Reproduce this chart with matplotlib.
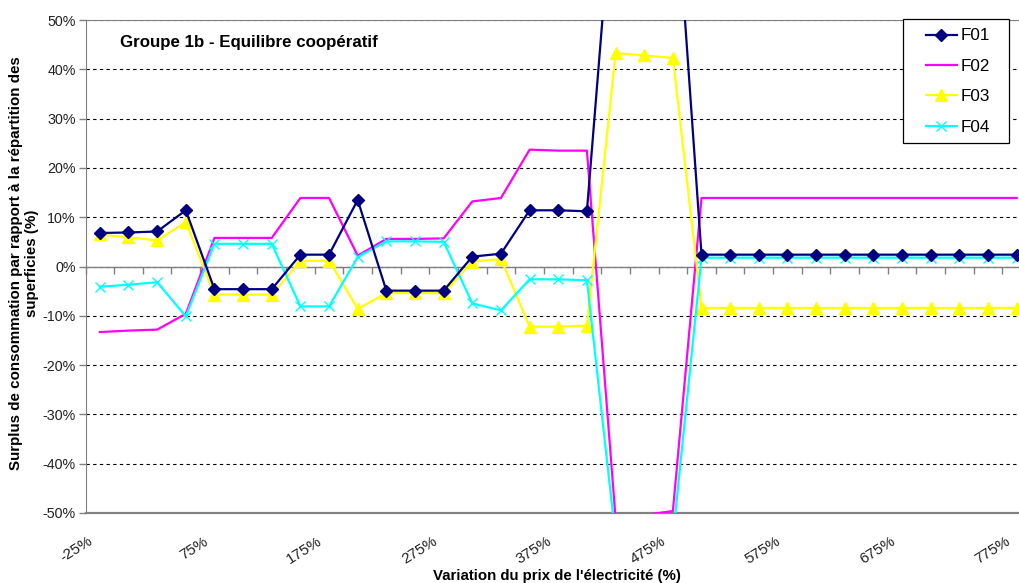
import matplotlib
matplotlib.use("Agg")
import matplotlib.pyplot as plt
import matplotlib.transforms as mtransforms
from matplotlib.patches import Rectangle
import numpy as np

plt.rcParams['font.family'] = ['Liberation Sans', 'DejaVu Sans']

# ---- data ----
x_values = list(range(-25, 800, 25))          # price variation (%)
tick_values = list(range(-25, 800, 100))
tick_labels = [f"{v}%" for v in tick_values]
y_ticks = list(range(-50, 51, 10))

F01 = [6.8, 6.9, 7.1, 11.4, -4.6, -4.6, -4.6, 2.4, 2.4, 13.5, -4.9, -4.9, -4.9, 2.0, 2.6,
       11.4, 11.4, 11.2, 83.0, 84.0, 85.0] + [2.4] * 12
F02 = [-13.3, -13.0, -12.8, -9.6, 5.8, 5.8, 5.8, 13.9, 13.9, 2.2, 5.6, 5.6, 5.7, 13.2, 13.9,
       23.7, 23.5, 23.5, -51.0, -50.4, -49.6] + [13.9] * 12
F03 = [6.5, 5.9, 5.3, 9.0, -5.7, -5.7, -5.7, 1.1, 1.2, -8.6, -5.4, -5.4, -5.4, 1.0, 1.5,
       -12.2, -12.2, -12.0, 43.3, 42.8, 42.3] + [-8.4] * 12
F04 = [-4.1, -3.7, -3.2, -10.1, 4.6, 4.6, 4.6, -8.1, -8.1, 1.9, 5.1, 5.1, 5.0, -7.5, -8.9,
       -2.6, -2.6, -2.8, -55.0, -55.0, -55.0] + [1.8] * 12

series_names = ["F01", "F02", "F03", "F04"]

W, H = 1019, 583
fig = plt.figure(figsize=(W / 100, H / 100), dpi=100)
L, R, T, B = 85.5, 1031, 20, 513
ax = fig.add_axes([L / W, 1 - B / H, (R - L) / W, (B - T) / H])

pos = np.arange(len(x_values))
grey = "#808080"

ax.plot(pos, F02, color="#FF00FF", lw=1.6, label="F02", zorder=3)
ax.plot(pos, F03, color="#FFFF00", lw=1.6, marker="^", ms=8.5, mec="#FFFF00", mfc="#FFFF00",
        label="F03", zorder=3.1)
ax.plot(pos, F04, color="#00FFFF", lw=1.6, marker="x", ms=6.5, mew=1.0, label="F04", zorder=3.2)
ax.plot(pos, F01, color="#000080", lw=1.6, marker="D", ms=6.5, mec="#000080", mfc="#000080",
        label="F01", zorder=3.3)

ax.set_xlim(-0.5, len(x_values) - 0.5)
ax.set_ylim(-50, 50)

# y axis
ax.set_yticks(y_ticks)
ax.set_yticklabels([f"{v}%" for v in y_ticks])
ax.tick_params(axis="y", direction="out", length=5, width=1, color=grey, pad=2,
               labelsize=10.3, labelcolor="#222222")
ax.yaxis.grid(True, color="black", linestyle=(0, (3, 3)), lw=0.8)
ax.set_axisbelow(True)

# x axis : line at 0 with ticks between categories, labels at the bottom
ax.spines["bottom"].set_position(("data", 0))
ax.spines["bottom"].set_color(grey)
ax.spines["bottom"].set_linewidth(1)
ax.spines["left"].set_color(grey)
ax.spines["top"].set_color(grey)
ax.spines["right"].set_color(grey)
ax.axhline(-50, color=grey, lw=1.6, zorder=2.5, clip_on=False)

tick_pos = [x_values.index(v) for v in tick_values]
ax.set_xticks(tick_pos)
ax.set_xticks(np.arange(-0.5, len(x_values), 1.0), minor=True)
ax.tick_params(axis="x", which="minor", direction="out", length=5, width=1, color=grey)
ax.tick_params(axis="x", which="major", length=0, pad=197, labelsize=11, labelcolor="#222222")
ax.set_xticklabels(tick_labels)
off = mtransforms.ScaledTranslation(-0.08, 0, fig.dpi_scale_trans)
for lab in ax.get_xticklabels():
    lab.set_rotation(32)
    lab.set_ha("right")
    lab.set_va("center")
    lab.set_rotation_mode("anchor")
    lab.set_transform(lab.get_transform() + off)

# labels
ax.set_xlabel("Variation du prix de l'électricité (%)", fontsize=10.8, fontweight="bold",
              va="center")
ax.xaxis.set_label_coords((557 - L) / (R - L), (B - 576) / (B - T))
ax.set_ylabel("Surplus de consommation par rapport à la répartition des\nsuperficies (%)",
              fontsize=10.9, fontweight="bold", va="center", linespacing=1.12)
ax.yaxis.set_label_coords((24 - L) / (R - L), (B - 263) / (B - T))

ax.text((120 - L) / (R - L), (B - 42) / (B - T), "Groupe 1b - Equilibre coopératif",
        transform=ax.transAxes, fontsize=12.2, fontweight="bold", ha="left", va="center")

# legend
fig.patches.append(Rectangle((903 / W, 1 - 143 / H), 106 / W, 124 / H, transform=fig.transFigure,
                             facecolor="white", edgecolor="black", lw=0.9, zorder=5))
handles, labels = ax.get_legend_handles_labels()
order = [labels.index(n) for n in series_names]
leg = fig.legend([handles[i] for i in order], [labels[i] for i in order],
                 loc="upper left", bbox_to_anchor=(926 / W, 1 - 28.5 / H),
                 frameon=False, fontsize=12.3, handlelength=1.8, handletextpad=0.2,
                 labelspacing=0.9, borderpad=0, borderaxespad=0)
leg.set_zorder(6)

fig.savefig("out.png", dpi=100)
